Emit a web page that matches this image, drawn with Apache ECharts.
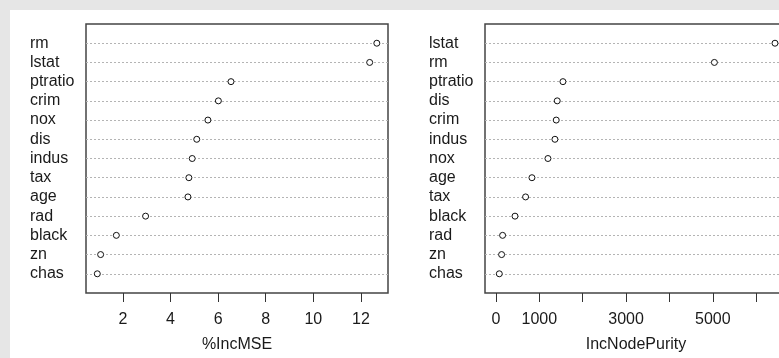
<!DOCTYPE html>
<html>
<head>
<meta charset="utf-8">
<script src="https://cdn.jsdelivr.net/npm/echarts@6/dist/echarts.min.js"></script>
<style>
html,body{margin:0;padding:0;background:#e6e6e6;overflow:hidden;width:779px;height:358px;}
#c{width:800px;height:358px;}
</style>
</head>
<body>
<div id="c"></div>
<script>
// Left panel: %IncMSE
const leftNames = ['rm','lstat','ptratio','crim','nox','dis','indus','tax','age','rad','black','zn','chas'];
const leftValues = [12.67,12.37,6.54,6.01,5.57,5.10,4.91,4.77,4.73,2.95,1.72,1.06,0.92];
const leftTicks = [2,4,6,8,10,12];
const leftTickLabels = [2,4,6,8,10,12];
const leftTitle = '%IncMSE';

// Right panel: IncNodePurity
const rightNames = ['lstat','rm','ptratio','dis','crim','indus','nox','age','tax','black','rad','zn','chas'];
const rightValues = [6435,5037,1544,1412,1389,1359,1198,829,682,438,152,129,76];
const rightTicks = [0,1000,2000,3000,4000,5000,6000];
const rightTickLabels = [0,1000,3000,5000];
const rightTitle = 'IncNodePurity';

const FONT = "'Liberation Sans', Arial, sans-serif";
const TXT = '#1a1a1a';
const n = leftNames.length;

function toPoints(vals){ return vals.map((v,i)=>[v, n - i]); }
function labelMap(names){ return function(v){ const i = n - v; return (i>=0 && i<n && Number.isInteger(v)) ? names[i] : ''; }; }

const splitColors = [];
for (let i=0;i<=n+1;i++) splitColors.push((i===0||i===n+1)?'rgba(0,0,0,0)':'#b4b4b4');

function xAxis(gi, min, max, ticks, labels, title){
  return {
    type:'value', gridIndex:gi, min:min, max:max,
    axisLine:{show:false},
    splitLine:{show:false},
    axisTick:{show:true, length:9, customValues:ticks, lineStyle:{color:'#333', width:1}},
    axisLabel:{show:true, customValues:labels, margin:19, fontSize:16, fontFamily:FONT, color:TXT,
      formatter:function(v){ return String(v); }},
    name:title, nameLocation:'middle', nameGap:44,
    nameTextStyle:{fontSize:16, fontFamily:FONT, color:TXT}
  };
}
function yAxis(gi, names){
  return {
    type:'value', gridIndex:gi, min:0, max:n+1, interval:1,
    axisLine:{show:false}, axisTick:{show:false},
    splitLine:{show:true, lineStyle:{color:splitColors, type:[2,2], width:1}},
    axisLabel:{show:true, align:'left', margin:56, fontSize:16, fontFamily:FONT, color:TXT,
      padding:[5,0,0,0], formatter:labelMap(names)}
  };
}
function series(gi, vals){
  return {
    type:'scatter', xAxisIndex:gi, yAxisIndex:gi, data:toPoints(vals),
    symbol:'circle', symbolSize:6,
    itemStyle:{color:'#fff', borderColor:'#111', borderWidth:1, opacity:1},
    silent:true, animation:false
  };
}

const chart = echarts.init(document.getElementById('c'), null, {renderer:'canvas', width:800, height:358});
chart.setOption({
  backgroundColor:'#e6e6e6',
  animation:false,
  graphic:[{type:'rect', shape:{x:10,y:10,width:790,height:348}, style:{fill:'#fff'}, z:-10, silent:true}],
  grid:[
    {left:86, top:24, width:302, height:272, show:true, borderColor:'#444', borderWidth:1.5, backgroundColor:'transparent'},
    {left:485, top:24, width:302, height:272, show:true, borderColor:'#444', borderWidth:1.5, backgroundColor:'transparent'}
  ],
  xAxis:[
    xAxis(0, 0.445, 13.14, leftTicks, leftTickLabels, leftTitle),
    xAxis(1, -254, 6712, rightTicks, rightTickLabels, rightTitle)
  ],
  yAxis:[ yAxis(0, leftNames), yAxis(1, rightNames) ],
  series:[ series(0, leftValues), series(1, rightValues) ]
});
</script>
</body>
</html>
